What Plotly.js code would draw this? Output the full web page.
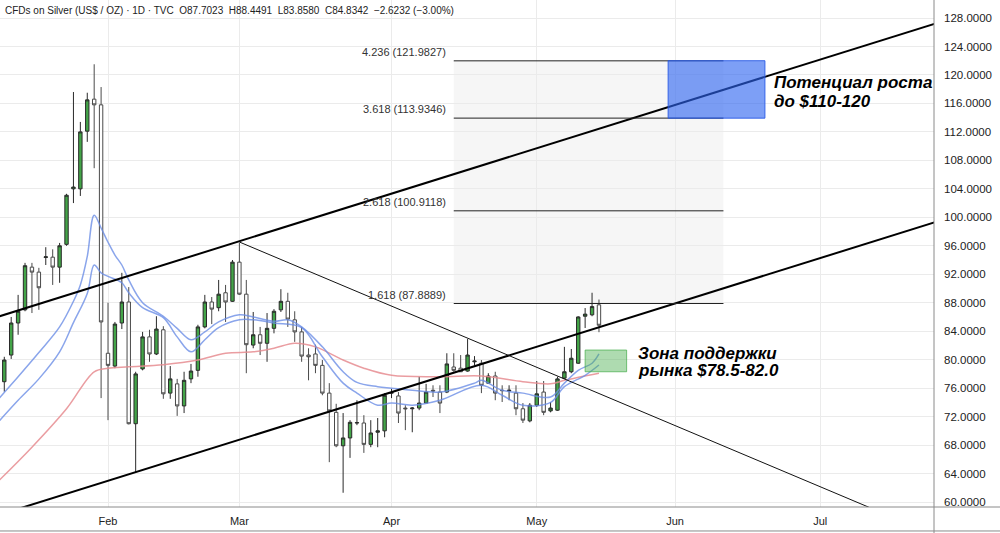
<!DOCTYPE html>
<html><head><meta charset="utf-8">
<script src="https://cdn.plot.ly/plotly-3.0.1.min.js"></script>
<style>html,body{margin:0;padding:0;background:#fff}#chart{width:1000px;height:533px}</style>
</head><body><div id="chart"></div>
<script>
// ---- Data (daily candles, CFDs on Silver, TVC) ----
const dates = [
 '2026-01-09','2026-01-12','2026-01-13','2026-01-14','2026-01-15','2026-01-16','2026-01-20','2026-01-21','2026-01-22','2026-01-23','2026-01-26','2026-01-27','2026-01-28','2026-01-29','2026-01-30',
 '2026-02-02','2026-02-03','2026-02-04','2026-02-05','2026-02-06','2026-02-09','2026-02-10','2026-02-11','2026-02-12','2026-02-13','2026-02-17','2026-02-18','2026-02-19','2026-02-20','2026-02-23','2026-02-24','2026-02-25','2026-02-26','2026-02-27',
 '2026-03-02','2026-03-03','2026-03-04','2026-03-05','2026-03-06','2026-03-09','2026-03-10','2026-03-11','2026-03-12','2026-03-13','2026-03-16','2026-03-17','2026-03-18','2026-03-19','2026-03-20','2026-03-23','2026-03-24','2026-03-25','2026-03-26','2026-03-27','2026-03-30','2026-03-31',
 '2026-04-01','2026-04-02','2026-04-06','2026-04-07','2026-04-08','2026-04-09','2026-04-10','2026-04-13','2026-04-14','2026-04-15','2026-04-16','2026-04-17','2026-04-20','2026-04-21','2026-04-22','2026-04-23','2026-04-24','2026-04-27','2026-04-28','2026-04-29','2026-04-30',
 '2026-05-01','2026-05-04','2026-05-05','2026-05-06','2026-05-07','2026-05-08','2026-05-11','2026-05-12','2026-05-13','2026-05-14'
];
const opens = [
 76.9,80.65,85.15,87.0,93.0,92.3,94.35,94.4,93.0,96.2,104.0,104.0,112.1,116.6,115.8,
 80.9,79.1,85.15,88.1,71.0,78.7,83.2,80.8,84.2,75.3,76.6,73.5,77.3,78.5,84.6,88.1,87.3,89.4,88.2,
 93.7,89.2,82.05,83.5,82.3,84.4,87.0,88.2,85.6,83.9,80.65,80.8,79.2,75.3,72.6,67.9,69.0,71.1,71.1,68.1,69.8,70.0,
 75.3,74.9,73.2,73.1,73.2,73.9,75.7,75.45,75.45,78.97,78.8,78.4,79.7,79.5,76.7,77.7,75.7,75.6,75.3,73.1,71.4,
 73.6,75.45,72.8,72.9,77.4,78.3,79.5,86.1,86.3,87.7023
];
const highs = [
 80.4,86.0,89.1,93.6,93.6,92.9,95.8,95.5,96.4,103.3,117.6,113.4,117.5,121.5,118.3,
 88.0,85.3,92.2,90.2,78.3,83.9,84.2,86.1,84.7,79.1,77.3,78.3,79.4,84.9,89.1,88.8,91.2,90.5,94.0,
 96.4,91.2,86.7,84.6,86.55,87.1,89.9,89.4,86.8,84.6,81.6,82.1,79.95,76.7,73.8,72.5,71.5,74.3,72.2,71.5,71.8,75.3,
 75.9,75.45,73.6,73.35,77.6,76.6,76.4,76.4,80.9,80.9,80.65,82.9,80.5,79.95,78.1,78.3,76.4,76.4,76.4,73.9,73.9,
 77.0,77.0,74.05,77.6,81.8,81.5,86.1,87.25,89.4,88.4491
];
const lows = [
 75.5,80.1,83.5,86.8,86.55,87.0,93.3,90.5,90.8,96.0,102.0,103.0,110.6,106.9,74.6,
 71.5,78.8,84.3,70.9,64.2,78.5,79.7,80.65,74.5,74.5,72.1,72.5,76.7,77.6,84.4,85.0,86.8,85.3,88.1,
 89.1,78.1,81.6,80.65,79.7,83.7,86.7,84.6,82.5,79.7,77.1,78.1,75.0,65.6,67.7,61.3,66.2,70.8,66.9,67.7,67.7,69.1,
 74.6,71.1,70.1,69.8,72.9,73.9,74.75,72.5,75.3,78.3,78.3,78.3,79.2,75.3,76.6,74.3,74.05,74.3,72.2,71.1,71.2,
 73.35,72.2,72.6,72.8,77.3,78.1,79.4,84.45,86.1,83.858
];
const closes = [
 79.95,85.15,86.8,93.2,92.3,90.1,94.45,93.0,96.0,103.1,104.25,112.0,116.5,115.8,85.3,
 79.2,85.0,88.1,71.0,78.0,83.2,80.8,84.3,75.2,77.3,73.5,77.1,78.4,84.6,88.1,87.1,89.2,88.1,93.7,
 89.2,82.1,83.5,82.3,84.4,86.8,88.2,85.7,83.9,80.5,80.4,79.2,75.3,72.8,67.9,69.0,71.2,71.15,68.1,69.7,70.0,75.0,
 75.35,72.5,73.1,73.2,73.9,75.45,75.6,73.9,79.4,78.5,78.3,80.65,79.8,76.4,77.7,75.3,75.65,75.7,73.1,71.5,73.6,
 75.2,72.6,73.2,77.3,78.3,80.2,86.0,86.4,87.4574,84.8342
];
// bar index of first February session
const firstFebBar = 15;

// moving averages, x in bar index relative to Feb 2
const maFastX = [-16,-13,-10,-7,-5,-4,-3,-2,-1,0,1,2,3,5,8,10,12,14,16,19,21,24,26,28,31,34,36,39,41,44,48,53,54,57,60,64,66,68,70,71];
const maFastY = [74.3,77.6,81.0,84.6,88.2,90.5,94.5,100.3,98.5,96.5,94.7,93.3,91.2,88.0,86.1,84.4,82.8,83.9,85.3,86.3,86.0,85.4,85.6,84.6,81.8,78.3,76.8,76.2,76.0,75.7,75.45,76.7,77.1,75.7,75.3,74.75,76.7,78.5,79.5,80.8];
const maMidX = [-16,-13,-10,-7,-5,-3,-2,-1,0,2,3,5,8,10,12,14,16,19,21,24,28,31,34,36,39,41,44,48,54,57,60,64,66,69,71];
const maMidY = [71.1,74.3,77.3,81.1,85.2,89.3,93.3,92.2,91.7,90.8,89.4,87.3,85.9,83.2,81.1,82.8,84.5,85.6,85.6,85.15,84.5,80.4,76.7,75.3,73.6,73.9,73.6,74.3,76.4,75.0,73.6,74.0,76.2,77.8,79.25];
const maSlowX = [-16,-11,-6,-2,0,3,8,13,17,21,24,27,30,34,37,41,48,54,60,64,66,71];
const maSlowY = [62.8,67.7,73.1,78.3,78.8,79.0,79.3,79.95,80.9,81.1,81.6,82.3,81.8,79.95,78.8,77.8,77.6,77.7,76.9,76.6,77.1,78.1];

// drawn lines (bar index, price)
const channelUpperX = [-17, 126], channelUpperY = [85.70, 129.15];
const channelLowerX = [-17, 126], channelLowerY = [57.82, 101.26];
const downTrendX = [19, 125], downTrendY = [96.53, 53.14];

// Fibonacci extension
const fibRatios = ['1.618','2.618','3.618','4.236'];
const fibLevels = [87.8889, 100.9118, 113.9346, 121.9827];
const fibStartBar = 50, fibEndBar = 89;

// zones
const targetZone = {x: [81, 95], y: [113.93, 122.0]};
const supportZone = {x: [69, 75], y: [78.3, 81.35]};

// month ticks
const monthTickBars = [0, 19, 41, 62, 82, 103];
const monthLabels = ['Feb','Mar','Apr','May','Jun','Jul'];

const header = 'CFDs on Silver (US$ / OZ) · 1D · TVC  O87.7023  H88.4491  L83.8580  C84.8342  −2.6232 (−3.00%)';

// ---- Build ----
const barX = dates.map((d, i) => i - firstFebBar);
const FONT = 'Liberation Sans, Arial, sans-serif';

const traces = [
  {type:'scatter', mode:'lines', x: maSlowX, y: maSlowY, line:{color:'rgba(230,140,145,0.85)', width:1.5, shape:'spline'}, hoverinfo:'skip'},
  {type:'scatter', mode:'lines', x: maMidX, y: maMidY, line:{color:'rgba(105,140,230,0.78)', width:1.5, shape:'spline'}, hoverinfo:'skip'},
  {type:'scatter', mode:'lines', x: maFastX, y: maFastY, line:{color:'rgba(105,140,230,0.78)', width:1.5, shape:'spline'}, hoverinfo:'skip'},
  {type:'candlestick', x: barX, open: opens, high: highs, low: lows, close: closes, text: dates,
   increasing:{fillcolor:'#43a448', line:{color:'#2a2a2a', width:1}},
   decreasing:{fillcolor:'#ffffff', line:{color:'#4a4a4a', width:1}},
   whiskerwidth:0},
  {type:'scatter', mode:'lines', x: channelUpperX, y: channelUpperY, line:{color:'#000', width:2}, hoverinfo:'skip'},
  {type:'scatter', mode:'lines', x: channelLowerX, y: channelLowerY, line:{color:'#000', width:2}, hoverinfo:'skip'},
  {type:'scatter', mode:'lines', x: downTrendX, y: downTrendY, line:{color:'#111', width:1}, hoverinfo:'skip'}
];

const shapes = [];
shapes.push({type:'rect', xref:'x', yref:'y', x0: fibStartBar, x1: fibEndBar, y0: fibLevels[0], y1: fibLevels[fibLevels.length-1],
  fillcolor:'rgba(0,0,0,0.035)', line:{width:0}, layer:'below'});
fibLevels.forEach(l => shapes.push({type:'line', xref:'x', yref:'y', x0: fibStartBar, x1: fibEndBar, y0: l, y1: l, line:{color:'#222', width:1}, layer:'above'}));
shapes.push({type:'rect', xref:'x', yref:'y', x0: targetZone.x[0], x1: targetZone.x[1], y0: targetZone.y[0], y1: targetZone.y[1],
  fillcolor:'rgba(45,100,240,0.62)', line:{color:'rgba(40,90,230,0.9)', width:1}, layer:'above'});
shapes.push({type:'rect', xref:'x', yref:'y', x0: supportZone.x[0], x1: supportZone.x[1], y0: supportZone.y[0], y1: supportZone.y[1],
  fillcolor:'rgba(76,175,80,0.45)', line:{color:'rgba(76,175,80,0.75)', width:1}, layer:'above'});
// frame lines
shapes.push({type:'line', xref:'paper', yref:'paper', x0:0, x1:1.08, y0:0, y1:0, line:{color:'#8a8a8a', width:1}});
shapes.push({type:'line', xref:'paper', yref:'paper', x0:0, x1:1.08, y0:-0.0473, y1:-0.0473, line:{color:'#8a8a8a', width:1}});
shapes.push({type:'line', xref:'paper', yref:'paper', x0:1, x1:1, y0:-0.06, y1:1, line:{color:'#8a8a8a', width:1}});

const annotations = [];
annotations.push({xref:'paper', yref:'paper', x:0, y:1, xanchor:'left', yanchor:'top', xshift:3, yshift:-3,
  text: header, showarrow:false, font:{family:FONT, size:10, color:'#222'}});
fibLevels.forEach((l, i) => annotations.push({xref:'x', yref:'y', x: fibStartBar, y: l, xanchor:'right', yanchor:'bottom',
  xshift:-6, yshift:1, showarrow:false, text: fibRatios[i] + ' (' + l.toFixed(4) + ')', font:{family:FONT, size:11, color:'#333'}}));
const noteFont = {family:FONT, size:17, color:'#000'};
annotations.push({xref:'x', yref:'y', x: targetZone.x[1], y: 118.87, xanchor:'left', yanchor:'middle', xshift:7, showarrow:false,
  text:'<b><i>Потенциал роста</i></b>', font: noteFont});
annotations.push({xref:'x', yref:'y', x: targetZone.x[1], y: 116.34, xanchor:'left', yanchor:'middle', xshift:7, showarrow:false,
  text:'<b><i>до $110-120</i></b>', font: noteFont});
annotations.push({xref:'x', yref:'y', x: supportZone.x[1], y: 80.93, xanchor:'left', yanchor:'middle', xshift:9, showarrow:false,
  text:'<b><i>Зона поддержки</i></b>', font: noteFont});
annotations.push({xref:'x', yref:'y', x: supportZone.x[1], y: 78.54, xanchor:'left', yanchor:'middle', xshift:9, showarrow:false,
  text:'<b><i>рынка $78.5-82.0</i></b>', font: noteFont});

const layout = {
  width:1000, height:533,
  margin:{l:0, r:66, t:0, b:26},
  paper_bgcolor:'#fff', plot_bgcolor:'#fff',
  showlegend:false,
  font:{family:FONT, size:11, color:'#222'},
  xaxis:{range:[-15.62, 119.45], autorange:false, rangeslider:{visible:false},
    tickmode:'array', tickvals: monthTickBars, ticktext: monthLabels,
    showgrid:true, gridcolor:'#ebebeb', zeroline:false, showline:false, ticks:'',
    ticklabelstandoff:6, tickfont:{family:FONT, size:11, color:'#222'}},
  yaxis:{range:[59.3, 130.53], autorange:false, side:'right', dtick:4, tick0:0, tickformat:'.4f',
    showgrid:true, gridcolor:'#ebebeb', zeroline:false, showline:false, ticks:'',
    ticklabelstandoff:9, tickfont:{family:FONT, size:11.5, color:'#222'}},
  shapes, annotations
};

Plotly.newPlot('chart', traces, layout, {displayModeBar:false, staticPlot:true});
</script>
</body></html>
